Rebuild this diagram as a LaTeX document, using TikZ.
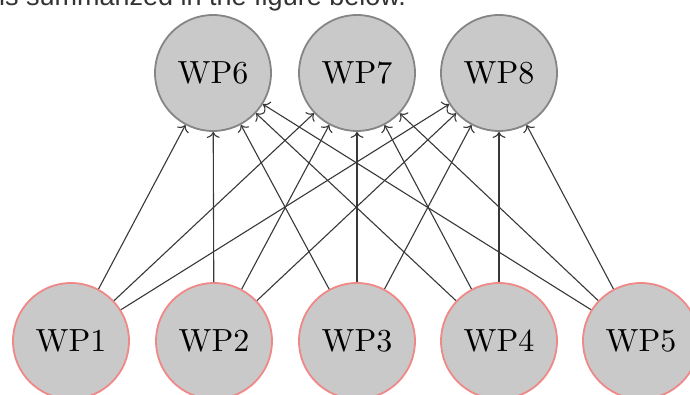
\documentclass[tikz,border=0pt]{standalone}
\usepackage{fontspec}
\usetikzlibrary{arrows.meta}
\newfontfamily\wpfont{lmroman10-regular.otf}
\newfontfamily\headfont{Liberation Sans}
\definecolor{nodefill}{HTML}{C9C9C9}
\definecolor{topedge}{HTML}{858585}
\definecolor{botedge}{HTML}{F08888}
\definecolor{linkcol}{HTML}{383838}
\definecolor{headcol}{HTML}{333333}
\tikzset{
  wp/.style={circle, fill=nodefill, line width=1.8pt, minimum size=116pt, inner sep=0pt,
    font=\wpfont\fontsize{32}{38}\selectfont},
  wptop/.style={wp, draw=topedge},
  wpbot/.style={wp, draw=botedge},
  link/.style={-{To[length=6pt,width=13pt]}, draw=linkcol, line width=1.1pt}
}
\begin{document}
\begin{tikzpicture}[x=1pt,y=1pt]
\useasboundingbox (0,0) rectangle (690,395);
\begin{scope}
\clip (0,0) rectangle (690,395);
\node[anchor=base west, inner sep=0pt, text=headcol, font=\headfont\fontsize{27}{32}\selectfont] (head) at (-1,389.5) {is summarized in the figure below.};
\node[wptop] (wp6) at (213,322) {WP6};
\node[wptop] (wp7) at (357,322) {WP7};
\node[wptop] (wp8) at (499,322) {WP8};
\node[wpbot] (wp1) at (71,54) {WP1};
\node[wpbot] (wp2) at (214,54) {WP2};
\node[wpbot] (wp3) at (357,54) {WP3};
\node[wpbot] (wp4) at (499,54) {WP4};
\node[wpbot] (wp5) at (641,54) {WP5};
\foreach \s in {wp1,wp2,wp3,wp4,wp5}{
  \foreach \t in {wp6,wp7,wp8}{
    \draw[link] (\s) -- (\t);
  }
}
\end{scope}
\end{tikzpicture}
\end{document}
